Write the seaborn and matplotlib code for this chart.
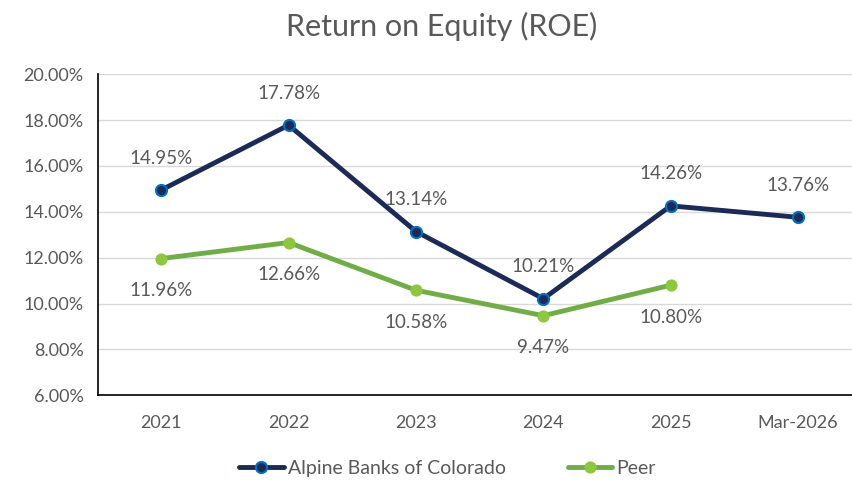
import pandas as pd
import matplotlib.pyplot as plt
import seaborn as sns

sns.set_theme(style="white")
plt.rcParams['font.family'] = ['Lato', 'DejaVu Sans']

# Data
periods = ["2021", "2022", "2023", "2024", "2025", "Mar-2026"]
alpine_roe = [14.95, 17.78, 13.14, 10.21, 14.26, 13.76]
peer_periods = ["2021", "2022", "2023", "2024", "2025"]
peer_roe = [11.96, 12.66, 10.58, 9.47, 10.80]

text_color = "#595959"
navy = "#1B2A56"
green = "#70AD47"

df_alpine = pd.DataFrame({"period": periods, "roe": alpine_roe})
df_peer = pd.DataFrame({"period": peer_periods, "roe": peer_roe})

fig = plt.figure(figsize=(8.52, 4.82), dpi=100)
ax = fig.add_axes([0.1145, 0.180, 0.897, 0.666])

sns.lineplot(data=df_alpine, x="period", y="roe", ax=ax, color=navy, linewidth=3.5,
             marker="o", markersize=8, markerfacecolor=navy, markeredgecolor="#0070C0",
             markeredgewidth=1.5, label="Alpine Banks of Colorado", sort=False)
sns.lineplot(data=df_peer, x="period", y="roe", ax=ax, color=green, linewidth=3.5,
             marker="o", markersize=8, markerfacecolor="#8DC63F", markeredgecolor="#8DC63F",
             label="Peer", sort=False)

# Data labels
for i, v in enumerate(alpine_roe):
    ax.annotate(f"{v:.2f}%", (i, v), xytext=(0, 23), textcoords="offset points",
                ha="center", va="center", fontsize=13.5, color=text_color)
for i, v in enumerate(peer_roe):
    ax.annotate(f"{v:.2f}%", (i, v), xytext=(0, -23), textcoords="offset points",
                ha="center", va="center", fontsize=13.5, color=text_color)

ax.set_xlim(-0.5, len(periods) - 0.5)
ax.set_ylim(6, 20)
ax.set_yticks(range(6, 21, 2))
ax.set_yticklabels([f"{t:.2f}%" for t in range(6, 21, 2)])
ax.yaxis.grid(True, color="#D9D9D9", linewidth=1)
ax.set_axisbelow(True)
ax.tick_params(axis="both", colors=text_color, labelsize=13, length=0)
ax.tick_params(axis="y", pad=10)
ax.tick_params(axis="x", pad=14)
ax.set_xlabel("")
ax.set_ylabel("")

for s in ["top", "right"]:
    ax.spines[s].set_visible(False)
for s in ["left", "bottom"]:
    ax.spines[s].set_color("black")
    ax.spines[s].set_linewidth(1.2)

fig.suptitle("Return on Equity (ROE)", x=0.518, y=0.975, fontsize=22, color=text_color)

ax.legend(loc="center", bbox_to_anchor=(0.525, 0.028), bbox_transform=fig.transFigure,
          ncol=2, frameon=False, fontsize=14, labelcolor=text_color, numpoints=1,
          handlelength=2.3, columnspacing=3.2, handletextpad=0.2)

fig.savefig("out.png", dpi=100)
